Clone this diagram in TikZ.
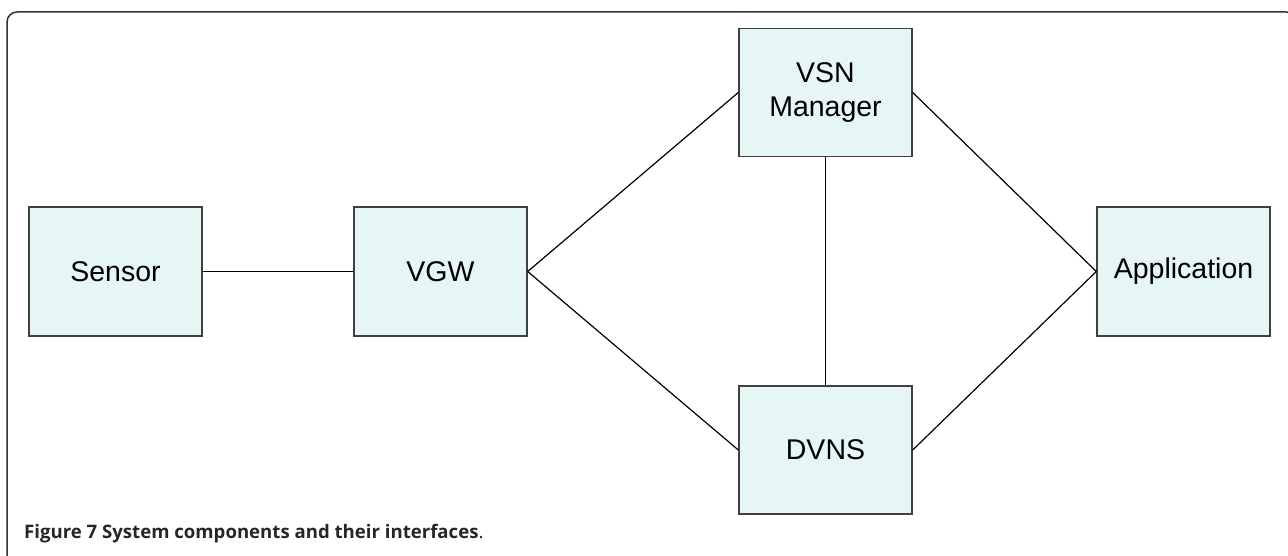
\documentclass[tikz,border=0pt]{standalone}
\usepackage{fontspec}
\setmainfont{Liberation Sans}
\newfontfamily\capfont{Open Sans}
\definecolor{boxfill}{HTML}{E6F6F5}
\definecolor{boxline}{HTML}{404040}
\definecolor{framegray}{HTML}{333333}
\begin{document}
\begin{tikzpicture}[x=1pt,y=-1pt,
  comp/.style={draw=boxline, line width=1.4pt, fill=boxfill, rectangle,
    minimum width=173pt, minimum height=129pt, inner sep=0pt, align=center,
    font=\fontsize{28.5}{34}\selectfont},
  link/.style={draw=black, line width=1.2pt}]
\useasboundingbox (0,0) rectangle (1288,556);
\clip (0,0) rectangle (1288,556);
% outer frame, open towards the right and bottom
\draw[framegray, line width=1.5pt, rounded corners=10pt]
  (7,580) -- (7,12) -- (1296,12) -- (1296,580);
% components
\node[comp] (sensor) at (115.5,271.5) {Sensor};
\node[comp] (vgw) at (440.5,271.5) {VGW};
\node[comp, minimum height=128pt] (vsn) at (825.5,92.5) {VSN\\Manager};
\node[comp, minimum height=128pt] (dvns) at (825.5,450) {DVNS};
\node[comp] (app) at (1183.5,271.5) {Application};
% interfaces
\draw[link] (sensor.east) -- (vgw.west);
\draw[link] (vgw.east) -- (vsn.west);
\draw[link] (vgw.east) -- (dvns.west);
\draw[link] (vsn.south) -- (dvns.north);
\draw[link] (vsn.east) -- (app.west);
\draw[link] (dvns.east) -- (app.west);
% caption
\node[anchor=base west, inner sep=0pt, font=\capfont\fontsize{18.6}{22}\selectfont, text=black!85]
  (cap) at (24,538) {\textbf{Figure 7 System components and their interfaces}.};
\end{tikzpicture}
\end{document}
